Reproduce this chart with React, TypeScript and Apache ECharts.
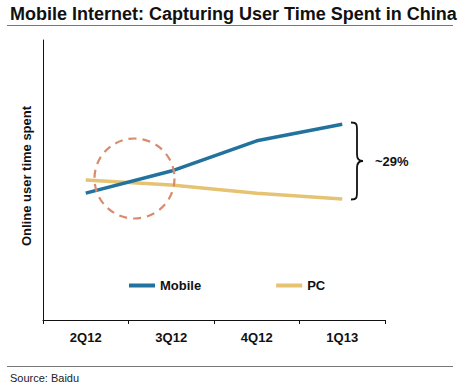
import React, { useEffect, useRef } from "react";
import * as echarts from "echarts";

const categories = ["2Q12", "3Q12", "4Q12", "1Q13"];
const mobileValues = [45.3, 53.2, 64.0, 69.9];
const pcValues = [50.0, 48.2, 45.3, 43.2];
const titleText = "Mobile Internet: Capturing User Time Spent in China";
const yAxisTitle = "Online user time spent";
const gapLabel = "~29%";
const sourceText = "Source: Baidu";

const braceD =
  "M0,0 C6,0 6,2 6,8 L6,32 C6,37 8,38.5 12,38.5 C8,38.5 6,40 6,45 L6,69 C6,75 6,77 0,77";
echarts.graphic.registerShape("brace", (echarts.graphic as any).extendPath(braceD, {}));

export default function App() {
  const ref = useRef<HTMLDivElement>(null);
  useEffect(() => {
    const chart = echarts.init(ref.current!, null, { renderer: "svg" });
    const font = "'Liberation Sans', Arial, Helvetica, sans-serif";
    chart.setOption({
      animation: false,
      textStyle: { fontFamily: font },
      grid: { left: 43, right: 78, top: 40, bottom: 66 },
      legend: {
        left: 129,
        top: 279,
        padding: 0,
        itemWidth: 26,
        itemHeight: 4,
        itemGap: 75,
        icon: "rect",
        textStyle: { fontWeight: "bold", fontSize: 13, color: "#111", fontFamily: font },
        data: ["Mobile", "PC"],
      },
      xAxis: {
        type: "category",
        data: categories,
        boundaryGap: true,
        axisLine: { lineStyle: { color: "#111", width: 1 } },
        axisTick: { show: true, length: 4, lineStyle: { color: "#111" } },
        axisLabel: { fontWeight: "bold", fontSize: 13, color: "#111", margin: 11, fontFamily: font },
        splitLine: { show: false },
      },
      yAxis: {
        type: "value",
        min: 0,
        max: 100,
        axisLine: { show: true, lineStyle: { color: "#111", width: 1 } },
        axisTick: { show: false },
        axisLabel: { show: false },
        splitLine: { show: false },
      },
      series: [
        {
          name: "Mobile",
          type: "line",
          data: mobileValues,
          symbol: "none",
          lineStyle: { color: "#22729e", width: 3.5 },
          itemStyle: { color: "#22729e" },
          z: 3,
        },
        {
          name: "PC",
          type: "line",
          data: pcValues,
          symbol: "none",
          lineStyle: { color: "#e6c373", width: 3.5 },
          itemStyle: { color: "#e6c373" },
          z: 2,
        },
      ],
      graphic: [
        {
          type: "text",
          left: 10,
          top: 5,
          style: { text: titleText, font: `bold 18px ${font}`, fill: "#111" },
        },
        {
          type: "line",
          shape: { x1: 7, y1: 25.5, x2: 453, y2: 25.5 },
          style: { stroke: "#777", lineWidth: 1.2 },
        },
        {
          type: "line",
          shape: { x1: 7, y1: 366.5, x2: 453, y2: 366.5 },
          style: { stroke: "#777", lineWidth: 1.2 },
        },
        {
          type: "text",
          left: 10,
          top: 372,
          style: { text: sourceText, font: `11px ${font}`, fill: "#222" },
        },
        {
          type: "text",
          x: 26,
          y: 176,
          rotation: Math.PI / 2,
          style: {
            text: yAxisTitle,
            font: `bold 13px ${font}`,
            fill: "#111",
            align: "center",
            verticalAlign: "middle",
          },
        },
        {
          type: "circle",
          shape: { cx: 134.5, cy: 178.5, r: 40 },
          style: { fill: "none", stroke: "#d98b6e", lineWidth: 2.2, lineDash: [8, 6] },
          z: 10,
        },
        {
          type: "brace",
          x: 351,
          y: 122.5,
          style: { fill: "none", stroke: "#111", lineWidth: 1.8 },
        },
        {
          type: "text",
          x: 375,
          y: 161,
          style: {
            text: gapLabel,
            font: `bold 13px ${font}`,
            fill: "#111",
            verticalAlign: "middle",
          },
        },
      ],
    });
    return () => chart.dispose();
  }, []);
  return (
    <div
      ref={ref}
      style={{ position: "fixed", left: 0, top: 0, width: 463, height: 386, background: "#fff" }}
    />
  );
}
